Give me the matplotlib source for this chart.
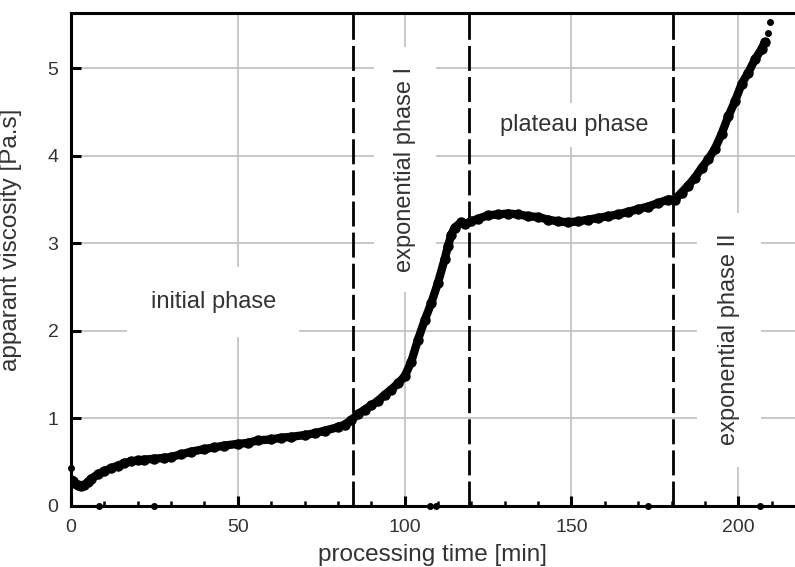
import matplotlib
matplotlib.use("Agg")
import matplotlib.pyplot as plt
from matplotlib.ticker import MultipleLocator

plt.rcParams['font.family'] = ['Liberation Sans', 'DejaVu Sans']

# processing time [min] and apparent viscosity [Pa.s]
time_min = [0, 0.5, 1, 2, 3, 4, 5, 6, 8, 10, 12, 14, 16, 18, 20, 22, 25, 28, 30,
            33, 36, 40, 43, 46, 50, 53, 56, 60, 63, 66, 70, 73, 76, 80, 82, 84,
            86, 88, 90, 92, 94, 96, 98, 100, 102, 104, 106, 108, 110, 112, 113,
            114, 115, 117, 118, 120, 122, 125, 128, 131, 134, 137, 140, 143, 146,
            149, 152, 155, 158, 161, 164, 167, 170, 173, 176, 179, 181, 183, 185,
            187, 189, 191, 193, 195, 197, 199, 201, 203, 205, 207, 208]
viscosity = [0.30, 0.28, 0.26, 0.24, 0.23, 0.24, 0.27, 0.31, 0.36, 0.40, 0.43,
             0.46, 0.49, 0.51, 0.52, 0.53, 0.54, 0.55, 0.56, 0.59, 0.62, 0.65,
             0.67, 0.69, 0.71, 0.72, 0.75, 0.76, 0.78, 0.79, 0.81, 0.83, 0.86,
             0.90, 0.93, 0.98, 1.05, 1.10, 1.15, 1.20, 1.27, 1.33, 1.40, 1.48,
             1.65, 1.90, 2.12, 2.32, 2.55, 2.82, 2.97, 3.10, 3.18, 3.24, 3.22,
             3.25, 3.28, 3.32, 3.33, 3.34, 3.33, 3.31, 3.30, 3.27, 3.25, 3.24,
             3.25, 3.27, 3.29, 3.31, 3.33, 3.36, 3.39, 3.42, 3.46, 3.50, 3.50,
             3.58, 3.66, 3.75, 3.86, 3.96, 4.08, 4.25, 4.45, 4.62, 4.82, 4.95,
             5.10, 5.22, 5.30]
# isolated points
extra_time = [0, 209, 209.5, 8.4, 25, 107.5, 109.5, 173, 206.5]
extra_visc = [0.43, 5.40, 5.53, 0, 0, 0, 0, 0, 0]

# phase boundaries [min]
boundaries = [84.4, 119.2, 180.5]

phase_labels = ["initial phase", "exponential phase I", "plateau phase", "exponential phase II"]
phase_x = [42.6, 100.1, 150.8, 197.2]
phase_y = [2.33, 3.84, 4.35, 1.9]
phase_rot = [0, 90, 0, 90]
phase_pad = [1.0, 0.85, 0.45, 0.9]

x_ticks = [0, 50, 100, 150, 200]
y_ticks = [0, 1, 2, 3, 4, 5]

fig = plt.figure(figsize=(7.95, 5.67), dpi=100)
ax = fig.add_axes([71/795, 61/567, 724/795, 493/567])

ax.set_xlim(0, 217)
ax.set_ylim(0, 5.63)
ax.set_xticks(x_ticks)
ax.set_yticks(y_ticks)
ax.xaxis.set_minor_locator(MultipleLocator(10))

ax.grid(True, which='major', color='#c4c4c4', linewidth=1.3, zorder=0)
ax.set_axisbelow(True)

for b in boundaries:
    ax.axvline(b, color='black', linewidth=2.0, linestyle=(0, (9, 2.2)), zorder=3)

ax.plot(time_min, viscosity, '-', color='black', linewidth=6.0,
        solid_capstyle='round', solid_joinstyle='round', zorder=4)
ax.plot(time_min, viscosity, 'o', color='black', markersize=6.5, zorder=4)
ax.plot(extra_time, extra_visc, 'o', color='black', markersize=4, zorder=4,
        clip_on=False)

for lab, tx, ty, rot, pad in zip(phase_labels, phase_x, phase_y, phase_rot, phase_pad):
    ax.text(tx, ty, lab, rotation=rot, ha='center', va='center', fontsize=17,
            color='#333333', zorder=2,
            bbox=dict(boxstyle='square,pad=%s' % pad, facecolor='white',
                      edgecolor='none'))

for side in ['left', 'bottom', 'top']:
    ax.spines[side].set_linewidth(2.2)
    ax.spines[side].set_color('black')
ax.spines['right'].set_visible(False)

ax.tick_params(axis='both', which='major', direction='in', length=7, width=2.2,
               labelsize=14, labelcolor='#333333', pad=9, top=False, right=False)
ax.tick_params(axis='x', which='minor', direction='in', length=3.5, width=1.8,
               top=False)

ax.set_xlabel('processing time [min]', fontsize=17.5, color='#333333', labelpad=6)
ax.set_ylabel('apparant viscosity [Pa.s]', fontsize=17.5, color='#333333')
ax.yaxis.set_label_coords(-0.068, 0.54)

fig.savefig('out.png', dpi=100)
